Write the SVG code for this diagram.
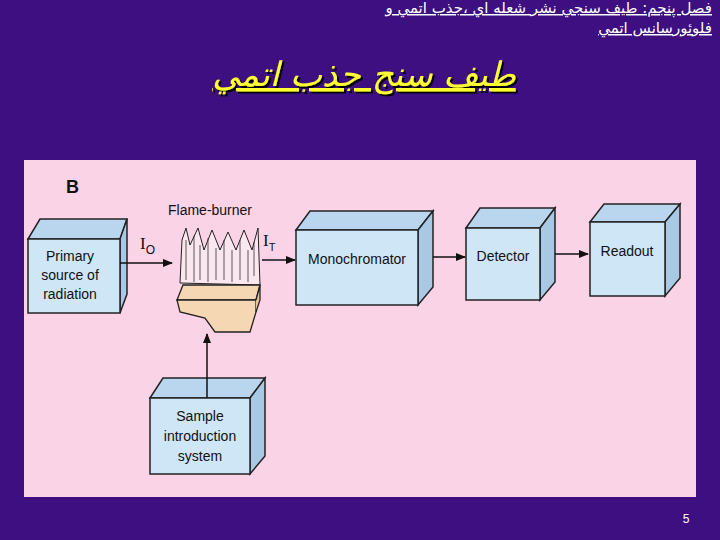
<svg xmlns="http://www.w3.org/2000/svg" width="720" height="540" viewBox="0 0 720 540">
<defs>
<style>
.f{fill:#cfe6f7;stroke:#222;stroke-width:1.5}
.t{fill:#b9d6ee;stroke:#222;stroke-width:1.5}
.s{fill:#a9c8e4;stroke:#222;stroke-width:1.5}
.l{font-family:"Liberation Sans",Arial,sans-serif;font-size:14px;fill:#111;text-anchor:middle}
.c{stroke:#111;stroke-width:1.5;fill:none;marker-end:url(#a)}
</style>
<filter id="sh" x="-10%" y="-20%" width="130%" height="150%"><feDropShadow dx="2" dy="2" stdDeviation="0.5" flood-color="#000"/></filter>
<marker id="a" markerWidth="10" markerHeight="8" refX="9" refY="4" orient="auto" markerUnits="userSpaceOnUse"><path d="M0,0L10,4L0,8z" fill="#111"/></marker>
</defs>
<rect width="720" height="540" fill="#3d0f80"/>
<text x="712" y="13" font-family="'DejaVu Sans',sans-serif" font-size="15" fill="#fff" text-anchor="end" text-decoration="underline">فصل پنجم: طيف سنجي نشر شعله اي ،جذب اتمي و</text>
<text x="712" y="33" font-family="'DejaVu Sans',sans-serif" font-size="15" fill="#fff" text-anchor="end" text-decoration="underline">فلوئورسانس اتمي</text>
<text x="364" y="86" font-family="'DejaVu Sans',sans-serif" font-size="34" font-style="italic" fill="#ffff33" text-anchor="middle" text-decoration="underline" filter="url(#sh)">طيف سنج جذب اتمي</text>
<rect x="24" y="160" width="672" height="337" fill="#fbd3e6"/>
<text x="66" y="193" font-family="'Liberation Sans',Arial,sans-serif" font-size="18" font-weight="bold" fill="#111">B</text>
<g id="primary"><path class="t" d="M28,239L40,219H127L120,239Z"/><path class="s" d="M120,239L127,219V294L120,313Z"/><rect class="f" x="28" y="239" width="92" height="74"/>
<text class="l" x="70" y="261">Primary</text><text class="l" x="70" y="280">source of</text><text class="l" x="70" y="299">radiation</text></g>
<g id="flame"><text class="l" x="210" y="215">Flame-burner</text>
<path d="M180,283L182,240L186,228L190,245L198,228L204,250L212,230L220,250L228,232L236,250L244,230L252,250L258,228L260,285Z" fill="#fbe7f0" stroke="#222" stroke-width="1"/>
<path d="M186,240V280M194,236V282M200,245V280M208,238V282M216,248V280M224,240V280M232,250V282M240,240V280M248,250V282M254,242V276" stroke="#333" stroke-width="0.8"/>
<path d="M177,300L183,285H260L256,300Z" fill="#f5d7b4" stroke="#222" stroke-width="1.3"/>
<path d="M177,300H256V312L250,332H215L205,318L180,312Z" fill="#f5d7b4" stroke="#222" stroke-width="1.3"/>
<path d="M256,300L260,285V300L256,312" fill="#e7c39d" stroke="#222" stroke-width="1.3"/></g>
<g id="mono"><path class="t" d="M296,230L310,211H433L418,230Z"/><path class="s" d="M418,230L433,211V287L418,305Z"/><rect class="f" x="296" y="230" width="122" height="75"/><text class="l" x="357" y="264">Monochromator</text></g>
<g id="detector"><path class="t" d="M466,228L480,208H555L540,228Z"/><path class="s" d="M540,228L555,208V282L540,300Z"/><rect class="f" x="466" y="228" width="74" height="72"/><text class="l" x="503" y="261">Detector</text></g>
<g id="readout"><path class="t" d="M590,222L604,204H680L665,222Z"/><path class="s" d="M665,222L680,204V278L665,296Z"/><rect class="f" x="590" y="222" width="75" height="74"/><text class="l" x="627" y="256">Readout</text></g>
<g id="sample"><path class="t" d="M150,398L163,378H265L250,398Z"/><path class="s" d="M250,398L265,378V456L250,474Z"/><rect class="f" x="150" y="398" width="100" height="76"/>
<text class="l" x="200" y="421">Sample</text><text class="l" x="200" y="441">introduction</text><text class="l" x="200" y="461">system</text></g>
<g id="connectors">
<path class="c" d="M120,263H172"/><path class="c" d="M262,260H295"/><path class="c" d="M433,257H465"/><path class="c" d="M555,254H588"/><path class="c" d="M207,398V334"/>
<text x="140" y="249" font-family="'Liberation Serif',serif" font-size="17" fill="#111">I<tspan font-family="'Liberation Sans',sans-serif" font-size="12" dy="5">O</tspan></text>
<text x="263" y="246" font-family="'Liberation Serif',serif" font-size="17" fill="#111">I<tspan font-family="'Liberation Sans',sans-serif" font-size="11" dy="5">T</tspan></text>
</g>
<text x="686" y="523" font-family="'Liberation Sans',Arial,sans-serif" font-size="12" fill="#fff" text-anchor="middle">5</text>
</svg>
